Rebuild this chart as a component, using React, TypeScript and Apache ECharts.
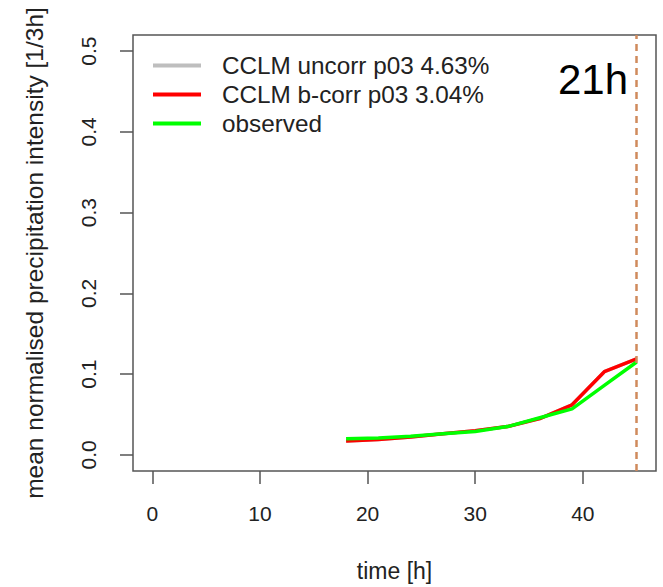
import React, { useEffect, useRef } from "react";
import * as echarts from "echarts";

const hours = [18, 21, 24, 27, 30, 33, 36, 39, 42, 45];
const uncorr = [0.017, 0.019, 0.022, 0.026, 0.030, 0.035, 0.045, 0.062, 0.103, 0.119];
const bcorr = [0.017, 0.019, 0.022, 0.026, 0.030, 0.035, 0.045, 0.062, 0.103, 0.119];
const observed = [0.020, 0.021, 0.023, 0.026, 0.029, 0.035, 0.046, 0.057, 0.086, 0.115];
const xTicks = [0, 10, 20, 30, 40];
const yTicks = [0, 0.1, 0.2, 0.3, 0.4, 0.5];
const markHour = 45;
const names = ["CCLM uncorr p03 4.63%", "CCLM b-corr p03 3.04%", "observed"];
const hourLabel = "21h";

const pair = (ys: number[]) => hours.map((h, i) => [h, ys[i]]);

export default function App() {
  const ref = useRef<HTMLDivElement>(null);
  useEffect(() => {
    const chart = echarts.init(ref.current!, null, { renderer: "svg" });
    const font = "Liberation Sans, Arial, Helvetica, sans-serif";
    chart.setOption({
      animation: false,
      backgroundColor: "#ffffff",
      grid: {
        left: 133,
        top: 35,
        width: 523,
        height: 437,
        show: true,
        borderColor: "#555555",
        borderWidth: 1.5,
        backgroundColor: "transparent",
      },
      legend: {
        orient: "vertical",
        left: 148,
        top: 46,
        itemWidth: 48,
        itemHeight: 4,
        itemGap: 0,
        icon: "rect",
        textStyle: { fontFamily: font, fontSize: 24.3, color: "#222222", lineHeight: 29, padding: [0, 0, 0, 16] },
        data: names,
      },
      xAxis: {
        type: "value",
        min: -1.8,
        max: 46.8,
        splitLine: { show: false },
        axisLine: { show: false, onZero: false },
        axisTick: { show: true, inside: false, length: 13, lineStyle: { color: "#555555", width: 1.5 }, customValues: xTicks },
        axisLabel: { fontFamily: font, fontSize: 21, color: "#222222", margin: 32, customValues: xTicks, formatter: (v: number) => String(v) },
        name: "time [h]",
        nameLocation: "middle",
        nameGap: 88,
        nameTextStyle: { fontFamily: font, fontSize: 23, color: "#222222" },
      },
      yAxis: {
        type: "value",
        min: -0.02,
        max: 0.52,
        splitLine: { show: false },
        axisLine: { show: false, onZero: false },
        axisTick: { show: true, inside: false, length: 13, lineStyle: { color: "#555555", width: 1.5 }, customValues: yTicks },
        axisLabel: {
          fontFamily: font,
          fontSize: 21,
          color: "#222222",
          margin: 34,
          rotate: 90,
          customValues: yTicks,
          formatter: (v: number) => v.toFixed(1),
        },
        name: "mean normalised precipitation intensity [1/3h]",
        nameLocation: "middle",
        nameRotate: 90,
        nameGap: 86,
        nameTextStyle: { fontFamily: font, fontSize: 24.5, color: "#222222" },
      },
      series: [
        {
          name: names[0],
          type: "line",
          data: pair(uncorr),
          symbol: "none",
          color: "#BEBEBE",
          lineStyle: { width: 3.5, color: "#BEBEBE" },
        },
        {
          name: names[1],
          type: "line",
          data: pair(bcorr),
          symbol: "none",
          color: "#FF0000",
          lineStyle: { width: 3.5, color: "#FF0000" },
          markLine: {
            silent: true,
            symbol: "none",
            label: { show: false },
            lineStyle: { type: [7, 5], color: "#D08A5C", width: 2.5 },
            data: [{ xAxis: markHour }],
          },
        },
        {
          name: names[2],
          type: "line",
          data: pair(observed),
          symbol: "none",
          color: "#00FF00",
          lineStyle: { width: 3.5, color: "#00FF00" },
        },
      ],
      graphic: [
        {
          type: "text",
          right: 663 - 628,
          top: 58,
          style: { text: hourLabel, font: `42px ${font}`, fill: "#000000" },
        },
      ],
    });
    return () => chart.dispose();
  }, []);
  return <div ref={ref} style={{ position: "absolute", left: 0, top: 0, width: 663, height: 587 }} />;
}
